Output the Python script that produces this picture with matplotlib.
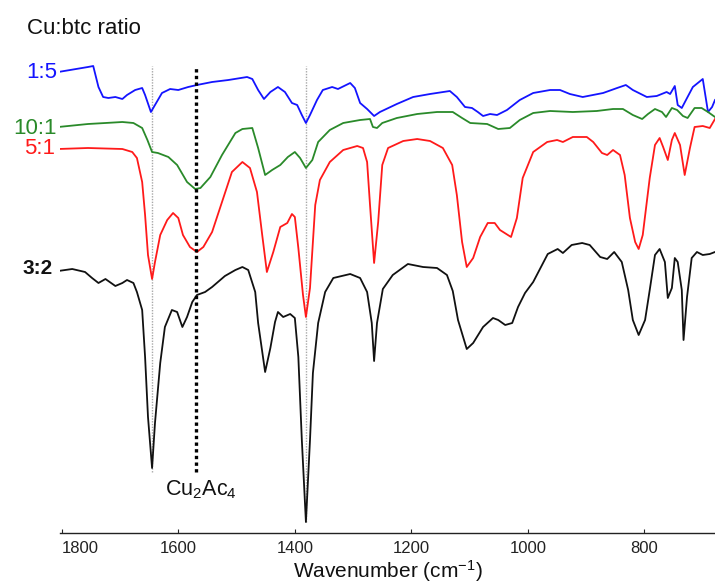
import matplotlib
matplotlib.use("Agg")
import matplotlib.pyplot as plt

plt.rcParams['font.family'] = ['Liberation Sans', 'DejaVu Sans']
plt.rcParams['mathtext.fontset'] = 'custom'
plt.rcParams['mathtext.rm'] = 'Liberation Sans'
plt.rcParams['mathtext.it'] = 'Liberation Sans:italic'

# ---------------- data (wavenumber in cm-1, transmittance in offset a.u.) ----------------
wn_15 = [1806, 1755, 1746, 1737, 1729, 1720, 1708, 1696, 1688, 1674, 1662, 1657, 1647, 1640, 1628,
         1614, 1600, 1583, 1568, 1542, 1514, 1482, 1473, 1463, 1453, 1442, 1429, 1417, 1405, 1396,
         1388, 1381, 1374, 1362, 1352, 1336, 1326, 1305, 1297, 1288, 1276, 1264, 1254, 1225, 1197,
         1168, 1134, 1122, 1108, 1096, 1086, 1077, 1065, 1053, 1036, 1014, 991, 962, 945, 928, 906,
         871, 847, 832, 820, 796, 779, 762, 756, 748, 743, 736, 727, 717, 700, 691, 684, 679]
t_15 = [461, 466, 467, 446, 436, 435, 436, 434, 438, 443, 445, 438, 421, 428, 440,
        444, 443, 446, 448, 451, 453, 456, 454, 443, 434, 441, 446, 441, 430, 428,
        418, 410, 418, 433, 443, 446, 444, 450, 445, 430, 424, 417, 421, 429, 436,
        439, 442, 436, 426, 425, 421, 417, 419, 418, 423, 433, 440, 443, 443, 439, 436,
        440, 445, 448, 443, 436, 437, 441, 439, 447, 428, 425, 435, 446, 454, 421, 426, 433]

wn_101 = [1806, 1755, 1725, 1696, 1677, 1662, 1653, 1645, 1635, 1617, 1602, 1585, 1571, 1562, 1545,
          1525, 1502, 1490, 1473, 1463, 1451, 1439, 1425, 1412, 1400, 1391, 1381, 1370, 1360, 1340,
          1317, 1288, 1271, 1266, 1259, 1250, 1225, 1190, 1156, 1129, 1113, 1099, 1070, 1051, 1031,
          1014, 991, 962, 923, 882, 854, 837, 820, 804, 794, 782, 770, 763, 753, 744, 734, 726, 714,
          702, 691, 679]
t_101 = [406, 409, 410, 411, 410, 405, 393, 381, 380, 376, 368, 351, 344, 345, 356,
         378, 400, 404, 405, 385, 358, 363, 368, 376, 381, 375, 365, 373, 391, 403,
         410, 413, 414, 406, 405, 410, 415, 419, 421, 421, 415, 410, 409, 404, 405,
         413, 420, 422, 421, 422, 424, 424, 418, 414, 419, 424, 421, 416, 425, 423, 417, 415, 425,
         425, 421, 416]

wn_51 = [1806, 1755, 1696, 1679, 1671, 1662, 1657, 1652, 1645, 1640, 1631, 1619, 1609, 1600, 1592,
         1580, 1568, 1557, 1542, 1525, 1508, 1490, 1477, 1465, 1456, 1448, 1437, 1425, 1413, 1405,
         1400, 1394, 1386, 1381, 1374, 1365, 1357, 1340, 1317, 1293, 1283, 1276, 1271, 1264, 1257,
         1250, 1240, 1214, 1190, 1168, 1146, 1130, 1122, 1113, 1105, 1094, 1082, 1069, 1057, 1048,
         1029, 1019, 1009, 991, 967, 950, 940, 923, 899, 888, 873, 864, 854, 842, 834, 825, 816,
         810, 803, 791, 782, 774, 768, 760, 753, 748, 739, 731, 722, 714, 700, 688, 679]
t_51 = [384, 385, 384, 381, 375, 351, 318, 278, 254, 271, 298, 313, 320, 315, 298,
        286, 281, 286, 301, 331, 361, 371, 365, 341, 298, 261, 281, 306, 310, 319,
        316, 285, 238, 216, 245, 328, 353, 371, 383, 387, 385, 371, 328, 270, 311,
        368, 385, 392, 394, 392, 385, 368, 338, 291, 266, 275, 296, 310, 310, 303,
        296, 315, 355, 381, 391, 393, 391, 396, 396, 391, 380, 378, 383, 378, 358, 315, 291,
        284, 298, 355, 388, 395, 386, 373, 393, 400, 388, 358, 385, 406, 407, 405, 414]

wn_32 = [1806, 1782, 1760, 1748, 1737, 1725, 1708, 1696, 1688, 1677, 1671, 1662, 1657, 1652, 1645,
         1640, 1631, 1623, 1611, 1602, 1593, 1585, 1576, 1568, 1554, 1542, 1520, 1502, 1490, 1480,
         1468, 1463, 1451, 1442, 1434, 1429, 1420, 1408, 1400, 1394, 1388, 1381, 1374, 1369, 1360,
         1348, 1334, 1305, 1288, 1276, 1268, 1264, 1259, 1249, 1232, 1206, 1180, 1156, 1139, 1129,
         1120, 1105, 1094, 1077, 1060, 1051, 1039, 1027, 1017, 1005, 991, 966, 949, 940, 925, 907,
         894, 876, 864, 852, 839, 828, 820, 810, 799, 791, 782, 774, 765, 760, 753, 748, 743, 736,
         733, 727, 719, 710, 700, 688, 679]
t_32 = [262, 264, 261, 255, 250, 254, 247, 250, 253, 250, 241, 223, 176, 116, 65,
        110, 170, 206, 223, 221, 206, 216, 231, 238, 241, 246, 257, 263, 266, 263,
        241, 210, 161, 185, 211, 221, 216, 219, 215, 176, 93, 11, 93, 160, 210,
        241, 255, 259, 255, 241, 210, 172, 210, 244, 258, 269, 266, 265, 258, 242,
        213, 184, 190, 206, 215, 213, 208, 210, 226, 240, 251, 279, 284, 280, 288, 290,
        288, 276, 274, 281, 271, 243, 213, 198, 213, 243, 278, 284, 271, 235, 245, 275, 271, 243,
        193, 236, 275, 281, 278, 279, 281]

series_labels = ['1:5', '10:1', '5:1', '3:2']
series_colors = ['#1414ff', '#2a8a2a', '#ff1a1a', '#111111']

ref_lines_gray = [1645, 1380]
ref_line_cu2ac4 = 1570
x_ticks = [1800, 1600, 1400, 1200, 1000, 800]

# ---------------- figure ----------------
W, H = 715, 588
fig = plt.figure(figsize=(W / 100, H / 100), dpi=100)
ax = fig.add_axes([60 / W, (H - 533) / H, 655 / W, 478 / H])
ax.set_xlim(1803, 679)
ax.set_ylim(0, 478)

# reference lines
ax.plot([ref_lines_gray[0]] * 2, [61, 467], color='#a8a8a8', lw=1.0, ls=(0, (1, 1)), zorder=1)
ax.plot([ref_lines_gray[1]] * 2, [11, 467], color='#a8a8a8', lw=1.0, ls=(0, (1, 1)), zorder=1)
ax.plot([ref_line_cu2ac4] * 2, [61, 467], color='black', lw=2.4, ls=(0, (1, 1)), zorder=3)

series = [(wn_15, t_15), (wn_101, t_101), (wn_51, t_51), (wn_32, t_32)]
for (x, y), c in zip(series, series_colors):
    ax.plot(x, y, color=c, lw=1.3, zorder=2, solid_joinstyle='round')

ax.text(1562, 43, 'Cu$_2$Ac$_4$', ha='center', va='center', fontsize=15.5, color='#111111')

# series labels outside the axes (figure pixels)
lab_pos = [(57, 72, 16, 'normal'), (57, 128, 16, 'normal'), (55, 149, 16, 'normal'), (53, 269, 15, 'bold')]
for lab, c, (px, py, fs, fw) in zip(series_labels, series_colors, lab_pos):
    fig.text(px / W, 1 - py / H, lab, ha='right', va='center', fontsize=fs,
             fontweight=fw, color=c)

fig.text(27 / W, 1 - 29 / H, 'Cu:btc ratio', ha='left', va='center', fontsize=16, color='#111111')

# axes styling
for s in ['top', 'right', 'left']:
    ax.spines[s].set_visible(False)
ax.spines['bottom'].set_color('#222222')
ax.spines['bottom'].set_linewidth(1.0)
ax.set_yticks([])
ax.set_xticks(x_ticks)
ax.tick_params(axis='x', direction='in', length=3, width=0.8, pad=6, labelsize=12,
               colors='#222222')
tl = ax.get_xticklabels()
tl[0].set_horizontalalignment('left')
ax.set_xlabel('Wavenumber (cm$^{-1}$)', fontsize=15, labelpad=1, color='#111111')

fig.savefig('out.png', dpi=100)
